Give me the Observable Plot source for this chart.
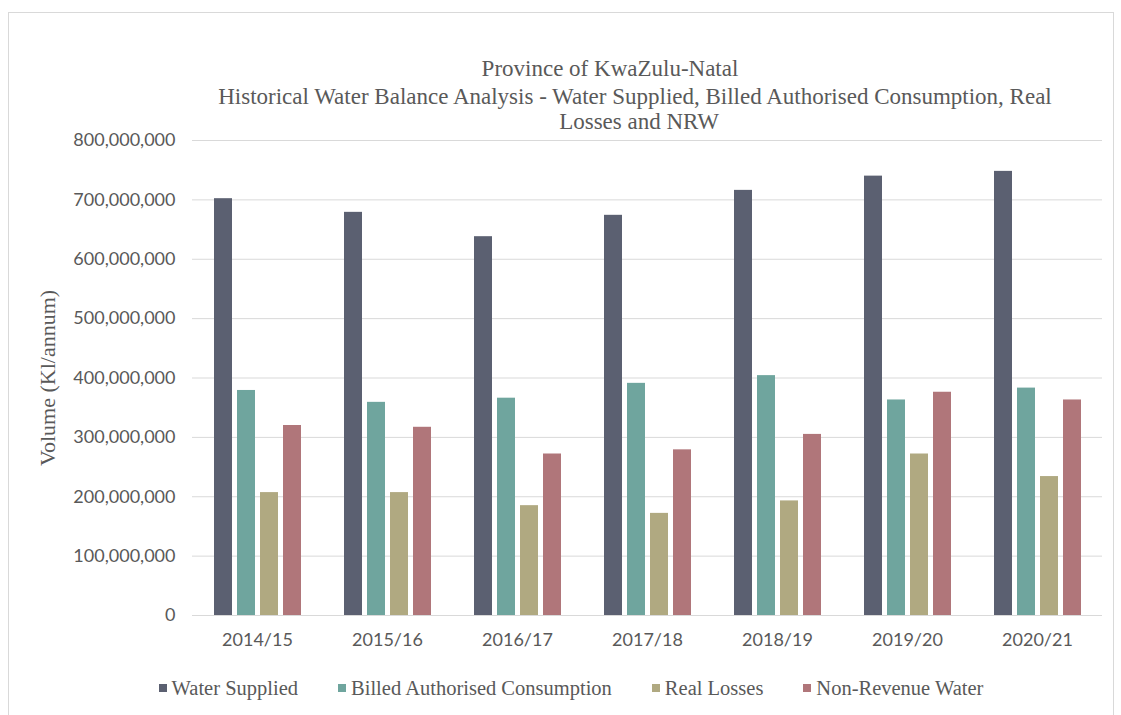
<!DOCTYPE html>
<html><head><meta charset="utf-8">
<script src="https://cdn.jsdelivr.net/npm/d3@7"></script>
<script src="https://cdn.jsdelivr.net/npm/@observablehq/plot@0.6"></script>
<style>
body{margin:0;background:#fff;}
#frame{position:absolute;left:8px;top:12px;width:1106px;height:720px;border:1px solid #d9d9d9;box-sizing:border-box;background:#fff;overflow:hidden;}
.serif{font-family:'Liberation Serif','Times New Roman','DejaVu Serif',serif;}
.t{position:absolute;width:1000px;text-align:center;font-size:23px;color:#595959;white-space:nowrap;line-height:26px;}
#chart{position:absolute;left:0;top:112px;}
#legend{position:absolute;left:62px;width:1000px;top:662px;height:26px;display:flex;justify-content:center;align-items:center;gap:40px;font-size:20.5px;color:#595959;white-space:nowrap;}
#legend .it{display:flex;align-items:center;gap:5px;}
#legend .sw{width:8px;height:8px;display:inline-block;}
</style></head>
<body>
<div id="frame">
  <div class="t serif" style="left:101px;top:43px;">Province of KwaZulu-Natal</div>
  <div class="t serif" style="left:126px;top:71px;">Historical Water Balance Analysis - Water Supplied, Billed Authorised Consumption, Real</div>
  <div class="t serif" style="left:130px;top:96px;">Losses and NRW</div>
  <div id="chart"></div>
  <div id="legend" class="serif"></div>
</div>
<script>
const years = ["2014/15","2015/16","2016/17","2017/18","2018/19","2019/20","2020/21"];
const seriesNames = ["Water Supplied","Billed Authorised Consumption","Real Losses","Non-Revenue Water"];
const waterSupplied = [702e6, 679e6, 638e6, 674e6, 716e6, 740e6, 748e6];
const billedAuthorised = [379e6, 359e6, 366e6, 391e6, 404e6, 363e6, 383e6];
const realLosses = [207e6, 207e6, 185e6, 172e6, 193e6, 272e6, 234e6];
const nonRevenueWater = [320e6, 317e6, 272e6, 279e6, 305e6, 376e6, 363e6];
const yTicks = [0,1e8,2e8,3e8,4e8,5e8,6e8,7e8,8e8];
const colors = ["#5b6071","#6fa59e","#b0a981","#b0767a"];

const valuesBySeries = [waterSupplied, billedAuthorised, realLosses, nonRevenueWater];
const data = [];
years.forEach((yr, i) => {
  seriesNames.forEach((s, j) => data.push({year: yr, series: s, value: valuesBySeries[j][i]}));
});

const serifFont = "'Liberation Serif','Times New Roman','DejaVu Serif',serif";

const chart = Plot.plot({
  width: 1104,
  height: 535,
  marginLeft: 183,
  marginRight: 11,
  marginTop: 15,
  marginBottom: 45,
  style: {color: "#595959", fontFamily: "Lato, sans-serif", fontSize: "18px", background: "transparent"},
  fx: {domain: years, padding: 0, axis: null},
  x: {domain: seriesNames, paddingInner: 0.22, paddingOuter: 0.85, axis: null},
  y: {domain: [0, 8e8], axis: null},
  color: {domain: seriesNames, range: colors},
  marks: [
    Plot.gridY(yTicks, {stroke: "#d9d9d9", strokeOpacity: 1, strokeWidth: 1}),
    Plot.barY(data, {fx: "year", x: "series", y: "value", fill: "series"}),
    Plot.axisY(yTicks, {tickSize: 0, tickPadding: 17, tickFormat: d3.format(","), label: null, fontSize: 18}),
    Plot.axisY({ticks: [], tickSize: 0, label: "Volume (Kl/annum)", labelAnchor: "center", labelArrow: "none", labelOffset: 153, fontSize: 22, fontFamily: serifFont}),
    Plot.axisFx({anchor: "bottom", tickSize: 0, tickPadding: 18, label: null, fontSize: 18})
  ]
});
document.getElementById("chart").appendChild(chart);

const leg = document.getElementById("legend");
seriesNames.forEach((s, j) => {
  const it = document.createElement("span");
  it.className = "it";
  const sw = document.createElement("span");
  sw.className = "sw";
  sw.style.background = colors[j];
  const tx = document.createElement("span");
  tx.textContent = s;
  it.appendChild(sw); it.appendChild(tx);
  leg.appendChild(it);
});
</script>
</body></html>
